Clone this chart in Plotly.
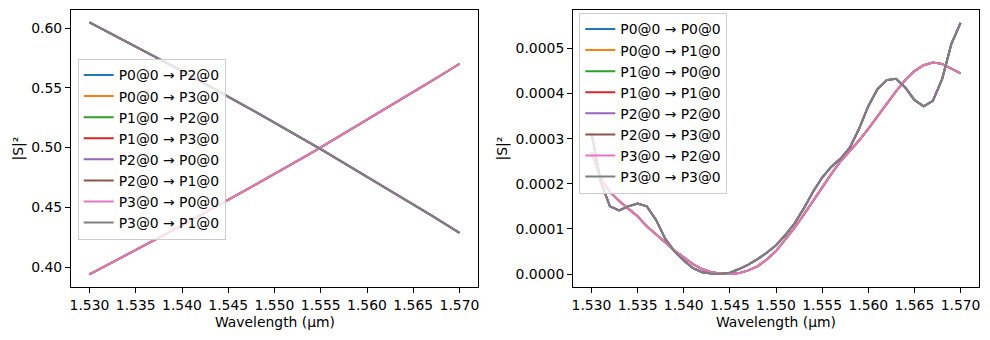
import plotly.graph_objects as go
from plotly.subplots import make_subplots

# Wavelength samples (µm)
wavelength = [
    1.530, 1.531, 1.532, 1.533, 1.534, 1.535, 1.536, 1.537, 1.538, 1.539,
    1.540, 1.541, 1.542, 1.543, 1.544, 1.545, 1.546, 1.547, 1.548, 1.549,
    1.550, 1.551, 1.552, 1.553, 1.554, 1.555, 1.556, 1.557, 1.558, 1.559,
    1.560, 1.561, 1.562, 1.563, 1.564, 1.565, 1.566, 1.567, 1.568, 1.569,
    1.570,
]

# Bar-port transmission |S|^2 (decreasing with wavelength)
bar_power = [
    0.6048, 0.6008, 0.5968, 0.5927, 0.5887, 0.5846, 0.5805, 0.5764, 0.5722, 0.5681,
    0.5639, 0.5597, 0.5554, 0.5512, 0.5469, 0.5426, 0.5383, 0.5340, 0.5296, 0.5252,
    0.5209, 0.5164, 0.5120, 0.5075, 0.5031, 0.4986, 0.4940, 0.4895, 0.4849, 0.4804,
    0.4758, 0.4711, 0.4665, 0.4618, 0.4571, 0.4524, 0.4477, 0.4430, 0.4382, 0.4334,
    0.4286,
]

# Cross-port transmission |S|^2 (increasing with wavelength)
cross_power = [
    0.3939, 0.3979, 0.4019, 0.4060, 0.4100, 0.4141, 0.4182, 0.4223, 0.4265, 0.4306,
    0.4348, 0.4390, 0.4433, 0.4475, 0.4518, 0.4561, 0.4604, 0.4647, 0.4691, 0.4735,
    0.4778, 0.4823, 0.4867, 0.4912, 0.4956, 0.5001, 0.5047, 0.5092, 0.5138, 0.5183,
    0.5229, 0.5276, 0.5322, 0.5369, 0.5416, 0.5463, 0.5510, 0.5557, 0.5605, 0.5653,
    0.5701,
]

# Port back-reflection |S|^2
reflection_power = [
    0.000313, 0.000205, 0.000150, 0.000141, 0.000150, 0.000156, 0.000150, 0.000120, 0.000078, 0.000050,
    0.000030, 0.000013, 0.000004, 0.000001, 0.000000, 0.000003, 0.000011, 0.000021, 0.000033, 0.000047,
    0.000064, 0.000086, 0.000112, 0.000145, 0.000182, 0.000214, 0.000238, 0.000256, 0.000280, 0.000322,
    0.000372, 0.000410, 0.000430, 0.000433, 0.000414, 0.000386, 0.000372, 0.000384, 0.000432, 0.000510,
    0.000557,
]

# Isolation between neighbouring ports |S|^2
isolation_power = [
    0.000269, 0.000212, 0.000182, 0.000162, 0.000145, 0.000128, 0.000106, 0.000088, 0.000070, 0.000052,
    0.000037, 0.000022, 0.000011, 0.000004, 0.000001, 0.000000, 0.000002, 0.000008, 0.000017, 0.000032,
    0.000051, 0.000076, 0.000102, 0.000131, 0.000162, 0.000193, 0.000222, 0.000250, 0.000273, 0.000296,
    0.000322, 0.000350, 0.000378, 0.000405, 0.000430, 0.000450, 0.000463, 0.000469, 0.000466, 0.000456,
    0.000445,
]

transmission_labels = [
    "P0@0 → P2@0", "P0@0 → P3@0", "P1@0 → P2@0", "P1@0 → P3@0",
    "P2@0 → P0@0", "P2@0 → P1@0", "P3@0 → P0@0", "P3@0 → P1@0",
]
transmission_kind = ["bar", "cross", "cross", "bar", "bar", "cross", "cross", "bar"]

reflection_labels = [
    "P0@0 → P0@0", "P0@0 → P1@0", "P1@0 → P0@0", "P1@0 → P1@0",
    "P2@0 → P2@0", "P2@0 → P3@0", "P3@0 → P2@0", "P3@0 → P3@0",
]
reflection_kind = ["refl", "iso", "iso", "refl", "refl", "iso", "iso", "refl"]

series_colors = ["#1f77b4", "#ff7f0e", "#2ca02c", "#d62728",
                 "#9467bd", "#8c564b", "#e377c2", "#7f7f7f"]

curves = {
    "bar": bar_power,
    "cross": cross_power,
    "refl": reflection_power,
    "iso": isolation_power,
}

FONT = "DejaVu Sans"
FS = 13.9
W, H = 990, 340

fig = make_subplots(rows=1, cols=2)

for i, (label, kind) in enumerate(zip(transmission_labels, transmission_kind)):
    fig.add_trace(go.Scatter(
        x=wavelength, y=curves[kind], mode="lines", name=label,
        line=dict(color=series_colors[i], width=2),
        legend="legend", legendgroup=f"t{i}",
    ), row=1, col=1)

for i, (label, kind) in enumerate(zip(reflection_labels, reflection_kind)):
    fig.add_trace(go.Scatter(
        x=wavelength, y=curves[kind], mode="lines", name=label,
        line=dict(color=series_colors[i], width=2),
        legend="legend2", legendgroup=f"r{i}",
    ), row=1, col=2)

# Axes box placement in pixels (left, right, top, bottom)
left_box = (71, 478, 10, 287)
right_box = (573, 979, 10, 287)

def xdom(b):
    return [b[0] / W, b[1] / W]

def ydom(b):
    return [1 - b[3] / H, 1 - b[2] / H]

axis_common = dict(
    showline=True, linecolor="black", linewidth=1, mirror=True,
    ticks="outside", ticklen=5, tickwidth=1, tickcolor="black",
    showgrid=False, zeroline=False,
    tickfont=dict(family=FONT, size=FS, color="black"),
    automargin=False,
)

xticks = [1.530, 1.535, 1.540, 1.545, 1.550, 1.555, 1.560, 1.565, 1.570]
fig.update_xaxes(**axis_common, range=[1.528, 1.572], tickvals=xticks,
                 tickformat=".3f")
fig.update_layout(
    xaxis=dict(domain=xdom(left_box)),
    xaxis2=dict(domain=xdom(right_box)),
    yaxis=dict(**axis_common, domain=ydom(left_box), range=[0.3833, 0.6151],
               tickvals=[0.40, 0.45, 0.50, 0.55, 0.60], tickformat=".2f"),
    yaxis2=dict(**axis_common, domain=ydom(right_box), range=[-0.0000288, 0.0005854],
                tickvals=[0.0, 0.0001, 0.0002, 0.0003, 0.0004, 0.0005], tickformat=".4f"),
)

legend_style = dict(
    bgcolor="rgba(255,255,255,0.8)", bordercolor="#cccccc", borderwidth=1,
    font=dict(family=FONT, size=FS, color="black"),
    xanchor="left", yanchor="top", tracegroupgap=0,
    traceorder="grouped",
)
fig.update_layout(
    legend=dict(**legend_style, x=77.7 / W, y=1 - 58.5 / H),
    legend2=dict(**legend_style, x=579.3 / W, y=1 - 12.5 / H),
)

annotations = []
for b in (left_box, right_box):
    annotations.append(dict(
        text="Wavelength (µm)", xref="paper", yref="paper",
        x=(b[0] + b[1]) / 2 / W, y=1 - 322 / H, xanchor="center", yanchor="middle",
        showarrow=False, font=dict(family=FONT, size=FS, color="black"),
    ))
for xpix in (18, 502):
    annotations.append(dict(
        text="|S|²", xref="paper", yref="paper",
        x=xpix / W, y=1 - 148.5 / H, xanchor="center", yanchor="middle",
        textangle=-90, showarrow=False, font=dict(family=FONT, size=FS, color="black"),
    ))

fig.update_layout(
    width=W, height=H,
    margin=dict(l=0, r=0, t=0, b=0),
    paper_bgcolor="white", plot_bgcolor="white",
    font=dict(family=FONT, size=FS, color="black"),
    annotations=annotations,
    showlegend=True,
)

fig.write_html("out.html")
